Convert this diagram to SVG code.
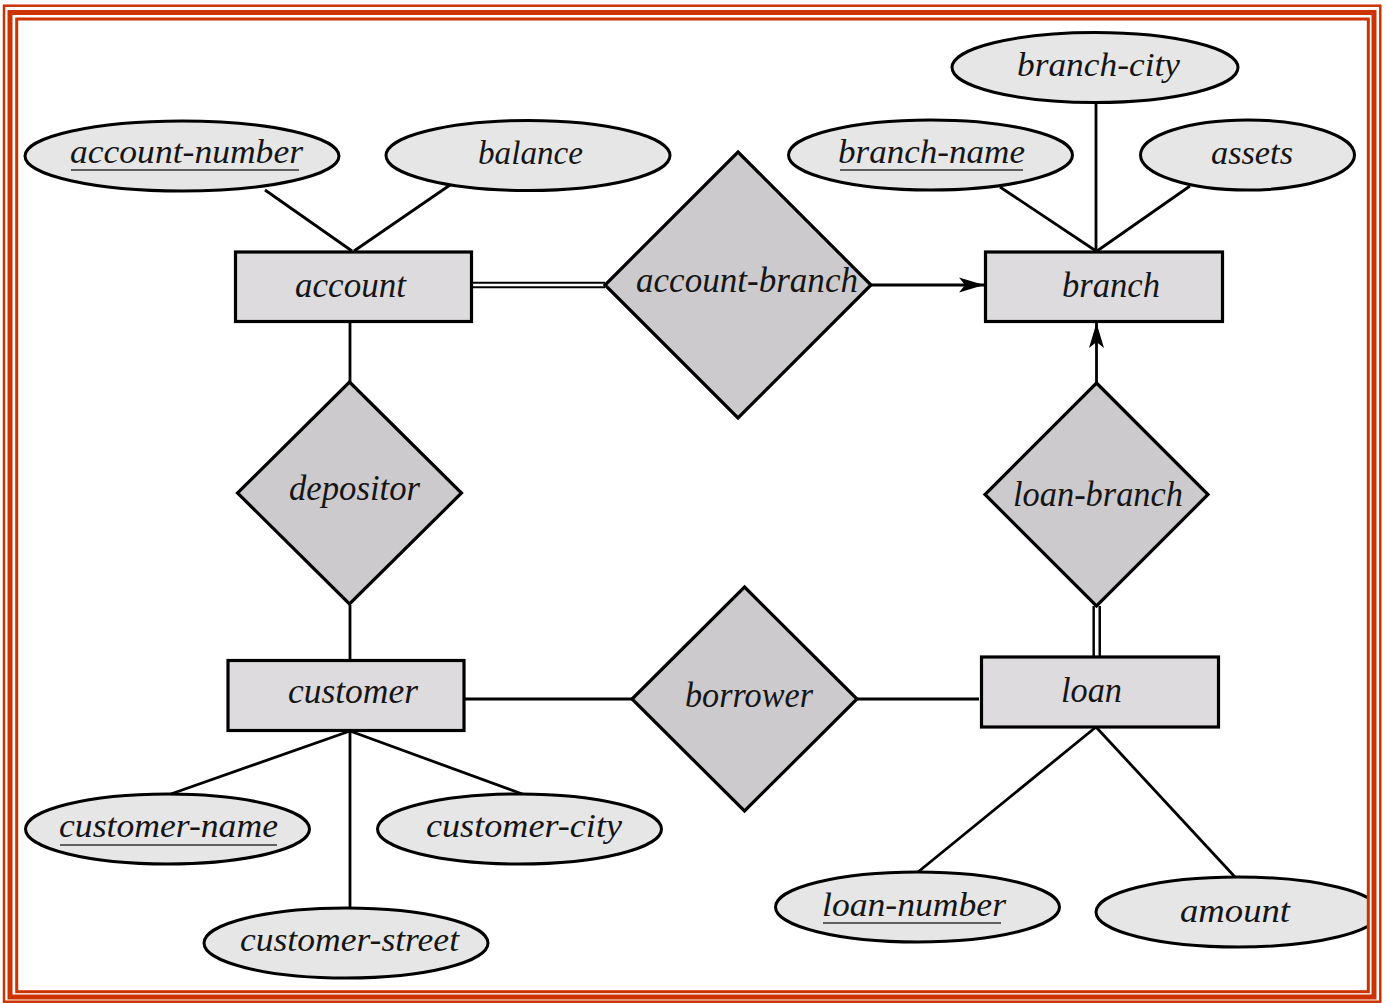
<svg xmlns="http://www.w3.org/2000/svg" width="1387" height="1003" viewBox="0 0 1387 1003">
<style>
.ent{fill:#dddbde;stroke:#000;stroke-width:3.2}
.rel{fill:#cccacd;stroke:#000;stroke-width:3.2;stroke-linejoin:miter}
.att{fill:#e6e6e6;stroke:#000;stroke-width:3}
.ln{stroke:#000;stroke-width:2.8;fill:none}
.t{font-family:"Liberation Serif","Times New Roman",serif;font-style:italic;fill:#151515}
.ta{font-size:34px}
.te{font-size:36px}
.ul{stroke:#333;stroke-width:1.5}
.frame{fill:none;stroke:#cc3300}
</style>
<defs>
<marker id="arr" markerUnits="userSpaceOnUse" markerWidth="30" markerHeight="20" viewBox="-26 -10 28 20" refX="0" refY="0" orient="auto">
<path d="M0,0 L-25,-7.5 L-19,0 L-25,7.5 Z" fill="#000"/>
</marker>
<clipPath id="clipIn"><rect x="18" y="20" width="1349" height="970"/></clipPath>
</defs>
<rect x="0" y="0" width="1387" height="1003" fill="#fff"/>

<g id="connectors">
<line class="ln" x1="265" y1="190" x2="352" y2="251"/>
<line class="ln" x1="450" y1="185" x2="354" y2="251"/>
<line class="ln" x1="350" y1="322" x2="350" y2="382"/>
<line class="ln" x1="350" y1="605" x2="350" y2="660"/>
<line x1="472" y1="285" x2="605" y2="285" stroke="#000" stroke-width="6.5"/>
<line x1="472" y1="285" x2="605" y2="285" stroke="#fff" stroke-width="2.4"/>
<line class="ln" x1="871" y1="285" x2="984" y2="285" marker-end="url(#arr)"/>
<line class="ln" x1="1000" y1="187" x2="1096" y2="251"/>
<line class="ln" x1="1096" y1="102" x2="1096" y2="251"/>
<line class="ln" x1="1190" y1="186" x2="1097" y2="251"/>
<line class="ln" x1="1096.5" y1="383" x2="1096.5" y2="323" marker-end="url(#arr)"/>
<line x1="1096.7" y1="606" x2="1096.7" y2="657" stroke="#000" stroke-width="8.5"/>
<line x1="1096.7" y1="606" x2="1096.7" y2="657" stroke="#fff" stroke-width="3.6"/>
<line class="ln" x1="464" y1="699" x2="632" y2="699"/>
<line class="ln" x1="857" y1="699" x2="979" y2="699"/>
<line class="ln" x1="350" y1="731" x2="168" y2="795"/>
<line class="ln" x1="350" y1="731" x2="525" y2="795"/>
<line class="ln" x1="350" y1="731" x2="350" y2="908"/>
<line class="ln" x1="1096" y1="727" x2="918" y2="872"/>
<line class="ln" x1="1096" y1="727" x2="1235" y2="877"/>
</g>

<g id="account-number"><ellipse class="att" cx="182" cy="156" rx="157" ry="35"/><text class="t ta" x="70" y="163" textLength="233" lengthAdjust="spacingAndGlyphs">account-number</text><line class="ul" x1="71" y1="170" x2="299" y2="170"/></g>
<g id="balance"><ellipse class="att" cx="528" cy="155.5" rx="142" ry="35"/><text class="t ta" x="478" y="164" textLength="105" lengthAdjust="spacingAndGlyphs">balance</text></g>
<g id="branch-city"><ellipse class="att" cx="1095" cy="67.5" rx="143" ry="35"/><text class="t ta" x="1017" y="76" textLength="163" lengthAdjust="spacingAndGlyphs">branch-city</text></g>
<g id="branch-name"><ellipse class="att" cx="930.5" cy="155" rx="142" ry="35"/><text class="t ta" x="838" y="163" textLength="187" lengthAdjust="spacingAndGlyphs">branch-name</text><line class="ul" x1="840" y1="170" x2="1023" y2="170"/></g>
<g id="assets"><ellipse class="att" cx="1247.5" cy="155" rx="107" ry="35"/><text class="t ta" x="1211" y="164" textLength="82" lengthAdjust="spacingAndGlyphs">assets</text></g>
<g id="customer-name"><ellipse class="att" cx="167.5" cy="829" rx="142" ry="35"/><text class="t ta" x="59" y="837" textLength="219" lengthAdjust="spacingAndGlyphs">customer-name</text><line class="ul" x1="60" y1="845" x2="277" y2="845"/></g>
<g id="customer-city"><ellipse class="att" cx="519.5" cy="829" rx="142" ry="35"/><text class="t ta" x="426" y="837" textLength="196" lengthAdjust="spacingAndGlyphs">customer-city</text></g>
<g id="customer-street"><ellipse class="att" cx="346" cy="943" rx="142" ry="35"/><text class="t ta" x="240" y="951" textLength="219" lengthAdjust="spacingAndGlyphs">customer-street</text></g>
<g id="loan-number"><ellipse class="att" cx="917.5" cy="907" rx="142" ry="35"/><text class="t ta" x="822" y="916" textLength="184" lengthAdjust="spacingAndGlyphs">loan-number</text><line class="ul" x1="823" y1="923" x2="1001" y2="923"/></g>
<g id="amount"><ellipse class="att" cx="1238" cy="912" rx="142" ry="35" clip-path="url(#clipIn)"/><text class="t ta" x="1180" y="922" textLength="110" lengthAdjust="spacingAndGlyphs">amount</text></g>

<g id="account"><rect class="ent" x="235.5" y="252" width="236" height="69.5"/><text class="t te" x="295" y="297" textLength="111" lengthAdjust="spacingAndGlyphs">account</text></g>
<g id="branch"><rect class="ent" x="985.5" y="252" width="237" height="69.5"/><text class="t te" x="1062" y="297" textLength="98" lengthAdjust="spacingAndGlyphs">branch</text></g>
<g id="customer"><rect class="ent" x="228" y="660.5" width="236" height="70"/><text class="t te" x="288" y="703" textLength="130" lengthAdjust="spacingAndGlyphs">customer</text></g>
<g id="loan"><rect class="ent" x="981.5" y="657" width="237" height="70"/><text class="t te" x="1061" y="702" textLength="61" lengthAdjust="spacingAndGlyphs">loan</text></g>

<g id="account-branch"><polygon class="rel" points="738,152 871,285 738,418 605,285"/><text class="t te" x="636" y="292" textLength="222" lengthAdjust="spacingAndGlyphs">account-branch</text></g>
<g id="depositor"><polygon class="rel" points="349.5,382 461.5,493 349.5,604 237.5,493"/><text class="t te" x="289" y="500" textLength="131" lengthAdjust="spacingAndGlyphs">depositor</text></g>
<g id="loan-branch"><polygon class="rel" points="1096.5,383 1208,494.5 1096.5,606 985,494.5"/><text class="t te" x="1013" y="506" textLength="170" lengthAdjust="spacingAndGlyphs">loan-branch</text></g>
<g id="borrower"><polygon class="rel" points="744.5,587 857,699 744.5,811 632,699"/><text class="t te" x="685" y="707" textLength="128" lengthAdjust="spacingAndGlyphs">borrower</text></g>

<g id="frame">
<rect class="frame" x="4" y="5.7" width="1376.3" height="996" stroke-width="2.5"/>
<rect class="frame" x="10" y="12.5" width="1364" height="984.5" stroke-width="5"/>
<rect class="frame" x="16.7" y="19" width="1351.6" height="972.7" stroke-width="3"/>
</g>
</svg>
